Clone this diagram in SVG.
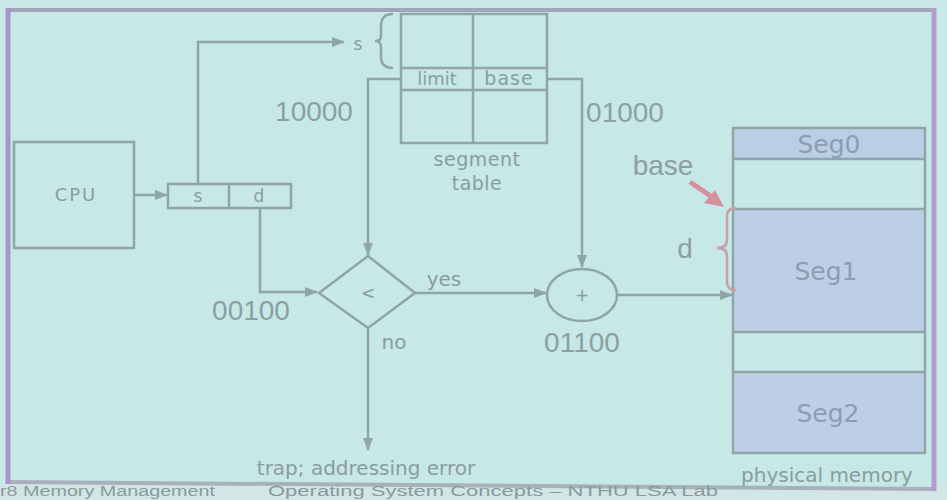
<svg xmlns="http://www.w3.org/2000/svg" width="947" height="500" viewBox="0 0 947 500">
<defs>
<style>
.ln{stroke:#8fa5a6;stroke-width:2.5;fill:none}
.bx{stroke:#8fa5a6;stroke-width:2.5;fill:none}
.t{font-family:"DejaVu Sans",Verdana,sans-serif;fill:#8a9c9e;text-anchor:middle}
.big{font-family:"Liberation Sans",Arial,sans-serif;fill:#8d9fa1;text-anchor:middle;font-size:28px}
.seg{font-family:"DejaVu Sans",Verdana,sans-serif;fill:#8e9cb0;text-anchor:middle;font-size:25px}
.ft{font-family:"Liberation Sans",Arial,sans-serif;fill:#8a9a9c;font-size:14px}
</style>
<marker id="ar" markerWidth="13" markerHeight="10" refX="12" refY="5" orient="auto" markerUnits="userSpaceOnUse">
<path d="M0,0 L13,5 L0,10 z" fill="#8fa5a6"/>
</marker>
</defs>
<rect x="0" y="0" width="947" height="500" fill="#c9e9e7"/>
<rect x="0" y="484" width="947" height="16" fill="#d2e6e6"/>
<polygon points="8,10 934,10 934,489 8,482" fill="#c6e8e6"/>
<line x1="6" y1="10" x2="936" y2="10" stroke="#9fa5bb" stroke-width="4"/>
<line x1="6" y1="482" x2="936" y2="489" stroke="#a7b0bb" stroke-width="4"/>
<line x1="8" y1="8" x2="8" y2="484" stroke="#a596cc" stroke-width="5"/>
<line x1="934" y1="8" x2="934" y2="491" stroke="#b29cc9" stroke-width="5"/>

<g id="connectors">
<path class="ln" d="M135,195 H167" marker-end="url(#ar)"/>
<path class="ln" d="M198,184 V42 H344" marker-end="url(#ar)"/>
<path class="ln" d="M401,79 H368 V255" marker-end="url(#ar)"/>
<path class="ln" d="M547,79 H582 V267" marker-end="url(#ar)"/>
<path class="ln" d="M260,208 V292 H317" marker-end="url(#ar)"/>
<path class="ln" d="M415,293 H546" marker-end="url(#ar)"/>
<path class="ln" d="M617,295 H732" marker-end="url(#ar)"/>
<path class="ln" d="M368,328 V450" marker-end="url(#ar)"/>
</g>

<g id="cpu">
<rect class="bx" x="14" y="142" width="120" height="106"/>
<text class="t" x="76" y="201" font-size="18" letter-spacing="2">CPU</text>
</g>

<g id="logical-address">
<rect class="bx" x="168" y="184" width="123" height="24"/>
<line class="ln" x1="229" y1="184" x2="229" y2="208"/>
<text class="t" x="198" y="202" font-size="17">s</text>
<text class="t" x="259" y="202" font-size="17">d</text>
</g>

<g id="s-label">
<text class="t" x="358" y="50" font-size="17">s</text>
<path class="ln" stroke-width="2" d="M393,14 Q381,14 381,26 V36 Q381,41 375,41 Q381,41 381,47 V57 Q381,68 393,68"/>
</g>

<g id="segment-table">
<rect class="bx" x="401" y="14" width="146" height="129"/>
<line class="ln" x1="473" y1="14" x2="473" y2="143"/>
<line class="ln" x1="401" y1="68" x2="547" y2="68"/>
<line class="ln" x1="401" y1="90" x2="547" y2="90"/>
<text class="t" x="437" y="85" font-size="18">limit</text>
<text class="t" x="509" y="85" font-size="19" letter-spacing="1">base</text>
<text class="t" x="477" y="166" font-size="19" letter-spacing="0.5">segment</text>
<text class="t" x="477" y="190" font-size="19" letter-spacing="0.5">table</text>
</g>

<g id="compare">
<polygon class="bx" points="368,256 415,293 368,328 319,293"/>
<text class="t" x="368" y="299" font-size="17">&lt;</text>
<text class="t" x="444" y="286" font-size="20">yes</text>
<text class="t" x="394" y="349" font-size="20">no</text>
</g>

<g id="adder">
<ellipse class="bx" cx="582" cy="295" rx="35" ry="26"/>
<text class="t" x="582" y="301" font-size="17">+</text>
</g>

<g id="values">
<text class="big" x="314" y="121">10000</text>
<text class="big" x="625" y="122">01000</text>
<text class="big" x="251" y="320">00100</text>
<text class="big" x="582" y="352">01100</text>
</g>

<g id="trap">
<text class="t" x="366" y="475" font-size="20">trap; addressing error</text>
</g>

<g id="physical-memory">
<rect x="733" y="128" width="192" height="31" fill="#b9cfe6"/>
<rect x="733" y="209" width="192" height="123" fill="#bccfe6"/>
<rect x="733" y="372" width="192" height="81" fill="#bccfe6"/>
<rect class="bx" x="733" y="128" width="192" height="325"/>
<line class="ln" x1="733" y1="159" x2="925" y2="159"/>
<line class="ln" x1="733" y1="209" x2="925" y2="209"/>
<line class="ln" x1="733" y1="332" x2="925" y2="332"/>
<line class="ln" x1="733" y1="372" x2="925" y2="372"/>
<text class="seg" x="829" y="153">Seg0</text>
<text class="seg" x="826" y="280">Seg1</text>
<text class="seg" x="828" y="422">Seg2</text>
<text class="t" x="827" y="482" font-size="20">physical  memory</text>
</g>

<g id="annotations">
<text class="big" x="663" y="175" font-size="31">base</text>
<path d="M690,182 L712,197" stroke="#d6909c" stroke-width="5" fill="none"/>
<polygon points="724,207 704,203 715,190" fill="#d6909c"/>
<text class="big" x="685" y="258" font-size="28">d</text>
<path d="M736,208 Q727,208 727,216 V240 Q727,248 717,248 Q727,248 727,256 V282 Q727,290 736,290" stroke="#c9a0a6" stroke-width="2.5" fill="none"/>
</g>

<g id="footer">
<text class="ft" x="0" y="496" textLength="215" lengthAdjust="spacingAndGlyphs">r8 Memory Management</text>
<text class="ft" x="268" y="496" textLength="450" lengthAdjust="spacingAndGlyphs">Operating System Concepts – NTHU LSA Lab</text>
</g>
</svg>
